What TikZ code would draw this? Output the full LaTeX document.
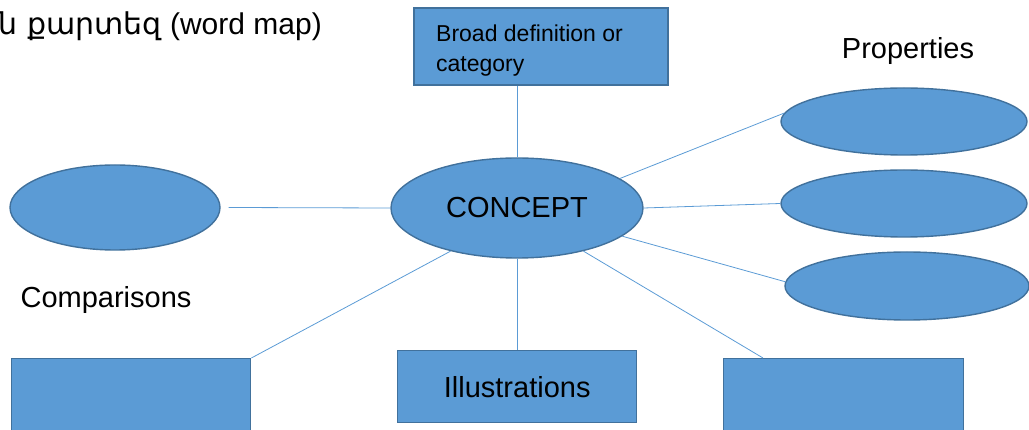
\documentclass[tikz,border=0pt]{standalone}
\usepackage{fontspec}
\setmainfont{Liberation Sans}
\newfontfamily\armfont{DejaVu Sans}
\usetikzlibrary{shapes.geometric}
\definecolor{bfill}{HTML}{5B9BD5}
\definecolor{bdraw}{HTML}{41719C}
\tikzset{
  shapebase/.style={fill=bfill, draw=bdraw, line width=1.4pt, inner sep=0pt},
  oval/.style={shapebase, ellipse},
  box/.style={shapebase, rectangle},
  link/.style={draw=bfill, line width=0.8pt},
  lbl/.style={inner sep=0pt, font=\fontsize{29}{34}\selectfont}
}
\begin{document}
\begin{tikzpicture}[x=1pt,y=-1pt]
\useasboundingbox (0,0) rectangle (1029,430);
% title
\node[inner sep=0pt, anchor=base east, font=\fontsize{30}{34}\selectfont] (title) at (322,35) {{\armfont ն քարտեզ} (word map)};
% top box
\node[box, minimum width=254pt, minimum height=77pt] (def) at (541,46.5) {};
\node[inner sep=0pt, anchor=base west, align=left, font=\fontsize{23}{30}\selectfont] (deftext) at (436,72) {Broad definition or\\category};
% concept
\node[oval, minimum width=252pt, minimum height=100pt, font=\fontsize{29}{34}\selectfont] (concept) at (517,208) {CONCEPT};
% left ellipse
\node[oval, minimum width=210pt, minimum height=85pt] (cmp) at (115,207.5) {};
% right ellipses
\node[oval, minimum width=246pt, minimum height=67pt] (p1) at (904,121.5) {};
\node[oval, minimum width=246pt, minimum height=67pt] (p2) at (904,203.5) {};
\node[oval, minimum width=244pt, minimum height=68pt] (p3) at (907,286) {};
% labels
\node[lbl, anchor=base] (props) at (908,59) {Properties};
\node[lbl, anchor=base] (comps) at (106,308) {Comparisons};
% bottom boxes
\node[box, minimum width=239pt, minimum height=90pt, anchor=north west] (cl) at (11,358) {};
\node[box, minimum width=239pt, minimum height=72pt, anchor=north west, font=\fontsize{29}{34}\selectfont] (ill) at (397,350) {Illustrations};
\node[box, minimum width=240pt, minimum height=90pt, anchor=north west] (cr) at (723,358) {};
% connectors
\draw[link] (def.south -| concept.north) -- (concept.north);
\draw[link] ([xshift=8pt]cmp.east) -- (concept.west);
\draw[link] (concept.16) -- (p1.176);
\draw[link] (concept.east) -- (p2.west);
\draw[link] (concept.-15) -- (p3.178);
\draw[link] (concept.-147) -- (cl.north east);
\draw[link] (concept.south) -- (concept.south |- ill.north);
\draw[link] (concept.-33) -- ([xshift=40pt]cr.north west);
\end{tikzpicture}
\end{document}
